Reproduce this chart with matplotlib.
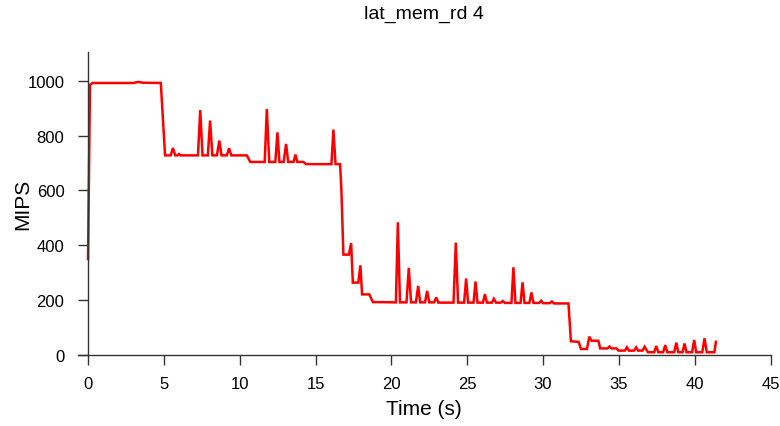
# ======================================================= #
# LIBRARIES
# ======================================================= #
import matplotlib
matplotlib.use("Agg")
import matplotlib.pyplot as plt


# ======================================================= #
# DATA
# ======================================================= #
time_s = [0.0, 0.13, 0.3, 3.0, 3.3, 3.6, 4.8,
          5.08, 5.45, 5.6, 5.75, 5.9, 6.0, 6.1, 7.25, 7.4, 7.55, 7.9, 8.05, 8.2,
          8.5, 8.66, 8.8, 9.15, 9.3, 9.45, 10.47,
          10.7, 11.65, 11.79, 11.95, 12.35, 12.49, 12.62, 12.9, 13.06, 13.2,
          13.55, 13.68, 13.8, 14.2,
          14.38, 16.05, 16.18, 16.32, 16.62, 16.7,
          16.84, 17.2, 17.35, 17.46, 17.82, 17.96, 18.07, 18.55,
          18.78, 20.3, 20.43, 20.57, 21.0, 21.15, 21.3, 21.62, 21.77, 21.9,
          22.22, 22.36, 22.5, 22.82, 22.96, 23.1, 24.1, 24.25, 24.4, 24.8,
          24.93, 25.06, 25.42, 25.55, 25.68, 26.04, 26.17, 26.3, 26.63, 26.76,
          26.9, 27.22, 27.35, 27.48, 27.92, 28.05, 28.18, 28.52, 28.65, 28.78,
          29.1, 29.24, 29.37, 29.75, 29.88, 30.0, 30.45, 30.59, 30.72, 31.68,
          31.84, 32.35, 32.5, 32.9, 33.05, 33.2, 33.65, 33.77, 34.25, 34.39,
          34.52, 34.85, 34.98, 35.4, 35.53, 35.66, 36.0, 36.14, 36.27, 36.56,
          36.7, 36.92, 37.33, 37.47, 37.6, 37.92, 38.06, 38.2, 38.65, 38.79,
          38.92, 39.2, 39.33, 39.46, 39.83, 39.97, 40.1, 40.5, 40.65, 40.8,
          41.3, 41.4]

mips = [350, 985, 992, 992, 996, 993, 992,
        728, 728, 755, 728, 728, 733, 728, 728, 893, 728, 728, 855, 728,
        728, 782, 728, 728, 754, 728, 728,
        704, 704, 897, 704, 704, 812, 704, 704, 770, 704,
        704, 731, 704, 704,
        696, 696, 822, 696, 696, 612,
        366, 366, 408, 264, 264, 327, 221, 221,
        193, 192, 484, 192, 192, 318, 192, 192, 252, 192,
        192, 234, 192, 192, 210, 191, 191, 410, 191, 191,
        279, 191, 191, 268, 191, 191, 222, 191, 191, 205,
        191, 191, 197, 190, 190, 320, 190, 190, 265, 190,
        190, 228, 190, 190, 198, 189, 189, 195, 188, 188,
        50, 48, 22, 22, 67, 52, 52, 24, 24, 31,
        24, 24, 16, 16, 28, 16, 16, 28, 16, 16,
        30, 10, 10, 33, 10, 10, 36, 10, 10, 45,
        10, 10, 42, 10, 10, 55, 10, 10, 61, 10,
        10, 48]

x_ticks = [0, 5, 10, 15, 20, 25, 30, 35, 40, 45]
y_ticks = [0, 200, 400, 600, 800, 1000]


# ======================================================= #
# PLOT
# ======================================================= #
plt.rcParams["font.family"] = ["Liberation Sans", "DejaVu Sans"]

fig = plt.figure(figsize=(7.8, 4.27), dpi=100)
ax = fig.add_axes([78/780, 1-356/427, (770.5-78)/780, (356-53)/427])

ax.plot(time_s, mips, color="red", lw=1.8, solid_joinstyle="miter")

# axes styling (R base-plot look)
ax.set_xlim(-0.66, 45)
ax.set_ylim(0, 1105)
ax.spines["top"].set_visible(False)
ax.spines["right"].set_visible(False)
ax.spines["left"].set_position(("data", 0))
for s in ["left", "bottom"]:
    ax.spines[s].set_color("#333333")
    ax.spines[s].set_linewidth(1.0)
ax.set_xticks(x_ticks)
ax.set_yticks(y_ticks)
ax.tick_params(axis="both", labelsize=12, length=7, width=1.0, color="#333333")
ax.tick_params(axis="y", pad=10)
ax.tick_params(axis="x", pad=8)

# title, centred over the axes
fig.text(ax.get_position().x0 + ax.get_position().width/2, 1-14/427, "lat_mem_rd 4",
         fontsize=14, ha="center", va="center")
ax.set_xlabel("Time (s)", fontsize=15, labelpad=6)
ax.set_ylabel("MIPS", fontsize=15)
ax.yaxis.set_label_coords(-0.066, 0.5, transform=ax.transAxes)

plt.savefig("out.png", dpi=100)
plt.close(fig)
